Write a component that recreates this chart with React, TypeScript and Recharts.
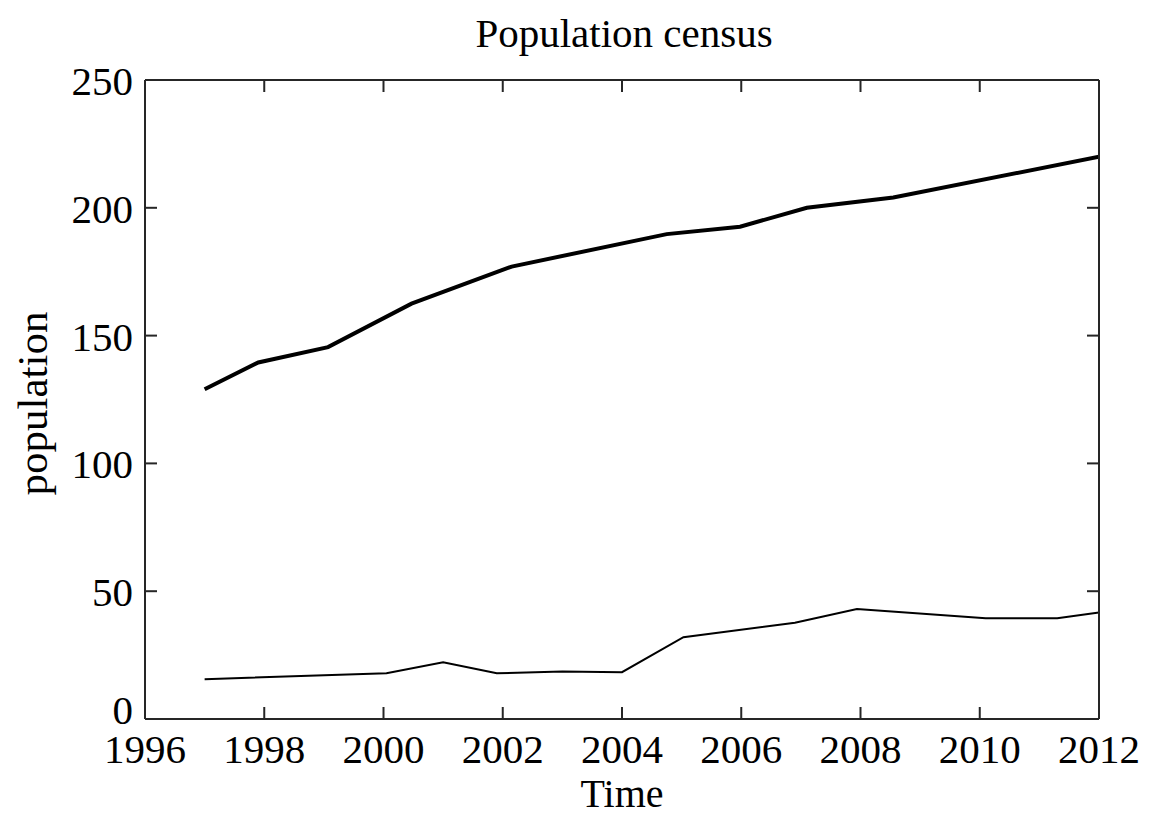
import { Label, Line, LineChart, XAxis, YAxis } from "recharts";

// thick line (upper series)
const upperYears = [1997, 1997.9, 1999.07, 2000.47, 2002.15, 2004.75, 2005.98, 2007.1, 2008.55, 2012];
const upperValues = [129, 139.5, 145.5, 162.5, 177, 189.7, 192.6, 200, 204, 220];

// thin line (lower series)
const lowerYears = [1997, 2000.05, 2001, 2001.9, 2003, 2004, 2005.03, 2006.9, 2007.94, 2010.1, 2011.3, 2012];
const lowerValues = [15.6, 17.9, 22.2, 17.9, 18.6, 18.3, 32, 37.7, 43, 39.4, 39.4, 41.7];

const xTicks = [1996, 1998, 2000, 2002, 2004, 2006, 2008, 2010, 2012];
const yTicks = [0, 50, 100, 150, 200, 250];

const FONT = "'Liberation Serif', 'Times New Roman', serif";
const AXIS_COLOR = "#262626";
const TICK_LEN = 12;
const AXIS_LINE = { stroke: AXIS_COLOR, strokeWidth: 2 };

const upperData = upperYears.map((year, i) => ({ year, value: upperValues[i] }));
const lowerData = lowerYears.map((year, i) => ({ year, value: lowerValues[i] }));

function BottomTick(props: any) {
  const { x, y, payload } = props;
  return (
    <g>
      <line x1={x} y1={y} x2={x} y2={y - TICK_LEN} stroke={AXIS_COLOR} strokeWidth={2} />
      <text x={x} y={y + 44} textAnchor="middle" fontSize={41} fontFamily={FONT} fill="#000">
        {payload.value}
      </text>
    </g>
  );
}

function TopTick(props: any) {
  const { x, y } = props;
  return <line x1={x} y1={y} x2={x} y2={y + TICK_LEN} stroke={AXIS_COLOR} strokeWidth={2} />;
}

function LeftTick(props: any) {
  const { x, y, payload } = props;
  const dy = payload.value === 0 ? 5 : 15;
  return (
    <g>
      <line x1={x} y1={y} x2={x + TICK_LEN} y2={y} stroke={AXIS_COLOR} strokeWidth={2} />
      <text x={x - 12} y={y + dy} textAnchor="end" fontSize={41} fontFamily={FONT} fill="#000">
        {payload.value}
      </text>
    </g>
  );
}

function RightTick(props: any) {
  const { x, y } = props;
  return <line x1={x} y1={y} x2={x - TICK_LEN} y2={y} stroke={AXIS_COLOR} strokeWidth={2} />;
}

export default function App() {
  // negative bottom margin lets the svg reach the window's bottom edge without a scrollbar
  return (
    <div style={{ width: 1135, height: 807, marginBottom: -8 }}>
      <LineChart width={1135} height={807} margin={{ top: 71, right: 43, bottom: 0, left: 0 }}>
        <XAxis
          dataKey="year"
          type="number"
          domain={[1996, 2012]}
          ticks={xTicks}
          interval={0}
          allowDataOverflow
          height={96}
          tickSize={0}
          tickMargin={0}
          tickLine={false}
          axisLine={AXIS_LINE}
          tick={<BottomTick />}
        >
          <Label
            content={(p: any) => {
              const vb = p.viewBox;
              return (
                <text x={vb.x + vb.width / 2} y={vb.y + 88} textAnchor="middle" fontSize={40} fontFamily={FONT} fill="#000">
                  Time
                </text>
              );
            }}
          />
        </XAxis>
        <XAxis
          xAxisId="top"
          orientation="top"
          dataKey="year"
          type="number"
          domain={[1996, 2012]}
          ticks={xTicks}
          interval={0}
          allowDataOverflow
          height={1}
          tickSize={0}
          tickMargin={0}
          tickLine={false}
          axisLine={AXIS_LINE}
          tick={<TopTick />}
        >
          <Label
            content={(p: any) => {
              const vb = p.viewBox;
              return (
                <text x={vb.x + vb.width / 2 + 2} y={vb.y - 32} textAnchor="middle" fontSize={41} fontFamily={FONT} fill="#000">
                  Population census
                </text>
              );
            }}
          />
        </XAxis>
        <YAxis
          type="number"
          domain={[0, 250]}
          ticks={yTicks}
          interval={0}
          allowDataOverflow
          width={137}
          tickSize={0}
          tickMargin={0}
          tickLine={false}
          axisLine={AXIS_LINE}
          tick={<LeftTick />}
        >
          <Label
            content={(p: any) => {
              const vb = p.viewBox;
              const cx = vb.x + 39;
              const cy = vb.y + vb.height / 2 + 4;
              return (
                <text
                  x={cx}
                  y={cy}
                  transform={`rotate(-90 ${cx} ${cy})`}
                  textAnchor="middle"
                  fontSize={43}
                  fontFamily={FONT}
                  fill="#000"
                >
                  population
                </text>
              );
            }}
          />
        </YAxis>
        <YAxis
          yAxisId="right"
          orientation="right"
          type="number"
          domain={[0, 250]}
          ticks={yTicks}
          interval={0}
          allowDataOverflow
          width={1}
          tickSize={0}
          tickMargin={0}
          tickLine={false}
          axisLine={AXIS_LINE}
          tick={<RightTick />}
        />
        <Line
          data={upperData}
          dataKey="value"
          type="linear"
          stroke="#000"
          strokeWidth={4}
          dot={false}
          isAnimationActive={false}
        />
        <Line
          data={lowerData}
          dataKey="value"
          type="linear"
          stroke="#000"
          strokeWidth={2}
          dot={false}
          isAnimationActive={false}
        />
      </LineChart>
    </div>
  );
}
